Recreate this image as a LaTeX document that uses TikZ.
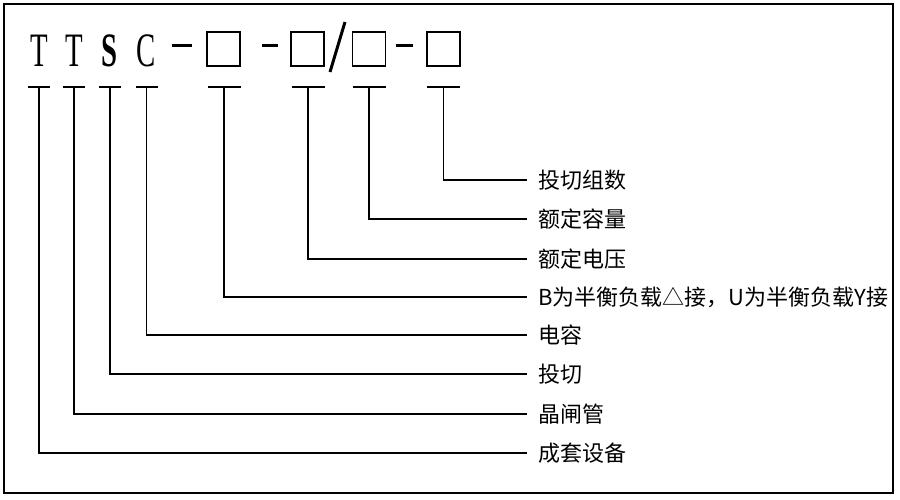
\documentclass[tikz,border=0pt]{standalone}
\usepackage{fontspec}
\setmainfont{Liberation Serif}
\newfontfamily\cjk{Noto Sans CJK SC}
\usepackage{tikz}

\tikzset{
  code/.style={font=\fontsize{48}{48}\selectfont, inner sep=0pt},
  slot/.style={draw, line width=1.3pt, minimum width=33pt, minimum height=34pt, inner sep=0pt},
  desc/.style={anchor=west, font=\cjk\fontsize{22}{22}\selectfont, inner xsep=11pt, inner ysep=0pt},
  lead/.style={line width=1.3pt},
  stroke/.style={line width=3pt},
}

\begin{document}
\begin{tikzpicture}[x=1pt,y=-1pt]
\useasboundingbox (0,0) rectangle (900,500);
\draw [line width=1.5pt] (4,4) rectangle (893,493);
% model code
\path ( 39,51) node[code] (t1)   {\scalebox{0.6}[1]{T}};
\path ( 74,51) node[code] (t2)   {\scalebox{0.6}[1]{T}};
\path (110,51) node[code] (s)    {\scalebox{0.6}[1]{\bfseries S}};
\path (146,51) node[code] (c)    {\scalebox{0.6}[1]{C}};
\path (223.5,49) node[slot] (box1) {};
\path (307.5,49) node[slot] (box2) {};
\path (369,49)   node[slot] (box3) {};
\path (443.5,49) node[slot] (box4) {};
\draw [stroke] (172,46) -- (192,46);
\draw [stroke] (262,46) -- (278,46);
\draw [stroke] (396,46) -- (413,46);
\draw [stroke] (345,22) -- (330,72);
% labels
\path (527,180) node[desc] (zushu)     {投切组数};
\path (527,219) node[desc] (rongliang) {额定容量};
\path (527,259) node[desc] (dianya)    {额定电压};
\path (527,297) node[desc] (jiexian)   {B为半衡负载△接，U为半衡负载Y接};
\path (527,335) node[desc] (dianrong)  {电容};
\path (527,374) node[desc] (touqie)    {投切};
\path (527,414) node[desc] (zhaguan)   {晶闸管};
\path (527,453) node[desc] (shebei)    {成套设备};
% bars
\coordinate (b1) at ( 39,87);
\coordinate (b2) at ( 74,87);
\coordinate (b3) at (110,87);
\coordinate (b4) at (146.5,87);
\coordinate (b5) at (224,87);
\coordinate (b6) at (308,87);
\coordinate (b7) at (369,87);
\coordinate (b8) at (443.5,87);
\draw [lead] ([xshift=-11pt]b1) -- ([xshift=11pt]b1);
\draw [lead] ([xshift=-11pt]b2) -- ([xshift=11pt]b2);
\draw [lead] ([xshift=-11pt]b3) -- ([xshift=11pt]b3);
\draw [lead] ([xshift=-11pt]b4) -- ([xshift=11pt]b4);
\draw [lead] ([xshift=-16.5pt]b5) -- ([xshift=16.5pt]b5);
\draw [lead] ([xshift=-16.5pt]b6) -- ([xshift=16.5pt]b6);
\draw [lead] ([xshift=-16.5pt]b7) -- ([xshift=16.5pt]b7);
\draw [lead] ([xshift=-16.5pt]b8) -- ([xshift=16.5pt]b8);
\draw [lead] (b1) |- (shebei.west);
\draw [lead] (b2) |- (zhaguan.west);
\draw [lead] (b3) |- (touqie.west);
\draw [lead] (b4) |- (dianrong.west);
\draw [lead] (b5) |- (jiexian.west);
\draw [lead] (b6) |- (dianya.west);
\draw [lead] (b7) |- (rongliang.west);
\draw [lead] (b8) |- (zushu.west);
\end{tikzpicture}
\end{document}
